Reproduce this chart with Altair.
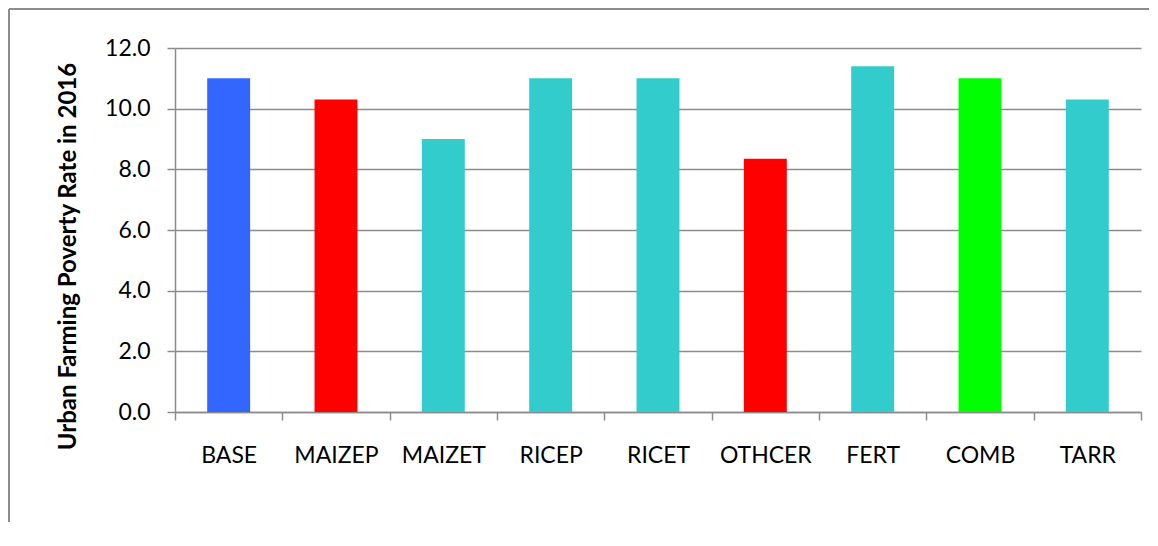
import altair as alt
import pandas as pd

categories = ["BASE", "MAIZEP", "MAIZET", "RICEP", "RICET", "OTHCER", "FERT", "COMB", "TARR"]
values = [11.0, 10.3, 9.0, 11.0, 11.0, 8.35, 11.4, 11.0, 10.3]
bar_colors = ["#3366FF", "#FF0000", "#33CCCC", "#33CCCC", "#33CCCC", "#FF0000", "#33CCCC", "#00FF00", "#33CCCC"]
y_ticks = [0, 2, 4, 6, 8, 10, 12]

df = pd.DataFrame({"cat": categories, "val": values, "color": bar_colors})

W, H = 966, 364
GRAY = "#8c8c8c"
FONT = "Lato"

bars = alt.Chart(df).mark_bar(width=alt.RelativeBandSize(0.4)).encode(
    x=alt.X(
        "cat:N",
        sort=categories,
        title=None,
        scale=alt.Scale(paddingInner=0, paddingOuter=0),
        axis=alt.Axis(
            labelAngle=0,
            tickBand="extent",
            tickSize=8,
            tickColor=GRAY,
            tickWidth=1.5,
            domainColor=GRAY,
            domainWidth=1.5,
            labelFont=FONT,
            labelFontSize=23,
            labelColor="#000000",
            labelPadding=24,
            grid=False,
        ),
    ),
    y=alt.Y(
        "val:Q",
        scale=alt.Scale(domain=[0, 12], nice=False),
        axis=alt.Axis(
            values=y_ticks,
            format=".1f",
            title="Urban Farming Poverty Rate in 2016",
            titleFont=FONT,
            titleFontSize=24,
            titleFontWeight="bold",
            titleColor="#000000",
            titleAngle=270,
            titleAlign="center",
            titleBaseline="middle",
            titleX=-107,
            titleY=208,
            tickSize=8,
            tickColor=GRAY,
            tickWidth=1.5,
            domainColor=GRAY,
            domainWidth=1.5,
            labelFont=FONT,
            labelFontSize=23,
            labelColor="#000000",
            labelPadding=17,
            grid=True,
            gridColor=GRAY,
            gridWidth=1.5,
        ),
    ),
    color=alt.Color("color:N", scale=None, legend=None),
)

frame_df = pd.DataFrame({"k": [0]})
frame_top = alt.Chart(frame_df).mark_rule(color=GRAY, strokeWidth=2).encode(
    x=alt.value(-166), x2=alt.value(W + 8), y=alt.value(-39)
)
frame_left = alt.Chart(frame_df).mark_rule(color=GRAY, strokeWidth=2).encode(
    x=alt.value(-166), y=alt.value(-39), y2=alt.value(H + 110)
)

chart = (
    alt.layer(bars, frame_top, frame_left)
    .properties(width=W, height=H, padding=0, background="white")
    .configure_view(stroke=None)
)

chart.save("out.html", embed_options={"renderer": "svg", "actions": False})
